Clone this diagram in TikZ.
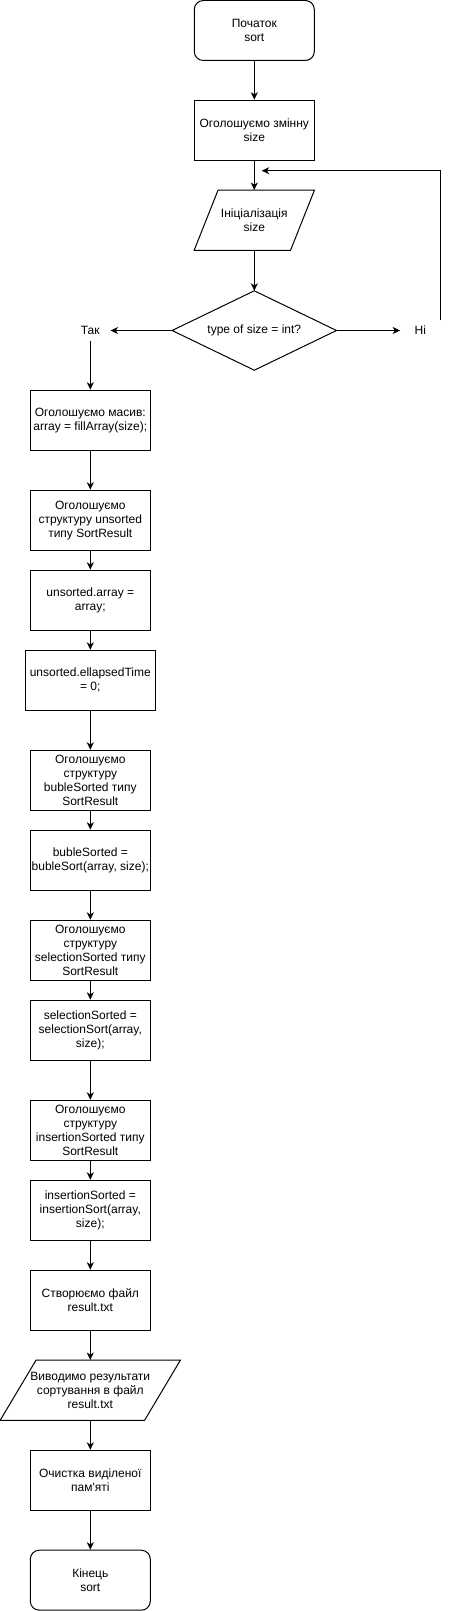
\documentclass[tikz,border=0pt]{standalone}
\usepackage{fontspec}
\setmainfont{Liberation Sans}[Ligatures=TeXOff]
\usetikzlibrary{arrows.meta}
\begin{document}
\begin{tikzpicture}[x=1pt,y=-1pt,
  every node/.style={font=\fontsize{12}{14}\selectfont, align=center, inner sep=0pt},
  proc/.style={draw, line width=1pt, minimum width=120pt, minimum height=60pt},
  term/.style={proc, rounded corners=9pt},
  iobox/.style={minimum width=120pt, minimum height=60pt},
  lbl/.style={minimum width=40pt, minimum height=20pt},
  arr/.style={line width=1pt, -{Stealth[length=7.5pt,width=7pt,inset=2.2pt]}},
  ln/.style={line width=1pt}
]
\useasboundingbox (0,0) rectangle (449,1611);

% main column
\node[term] (start) at (254.3,30.5) {Початок\\sort};
\node[proc] (decl) at (254.3,130.2) {Оголошуємо змінну\\size};
\node[iobox] (init) at (254.3,220.2) {Ініціалізація\\size};
\draw[ln] ([xshift=24pt]init.north west) -- (init.north east) -- ([xshift=-24pt]init.south east) -- (init.south west) -- cycle;
\node[minimum width=164pt, minimum height=79pt] (dec) at (254.3,330.5) {type of size = int?};
\draw[ln] (dec.north) -- (dec.east) -- (dec.south) -- (dec.west) -- cycle;
\node[lbl] (tak) at (90.3,330.5) {Так};
\node[lbl] (ni) at (420.3,330.5) {Ні};
\coordinate (fb) at (261.7,170.7);

% left column
\node[proc] (b1) at (90.3,420.2) {Оголошуємо масив:\\array = fillArray(size);};
\node[proc] (b2) at (90.3,520.2) {Оголошуємо\\структуру unsorted\\типу SortResult};
\node[proc] (b3) at (90.3,600.2) {unsorted.array =\\array;};
\node[proc, minimum width=130pt] (b4) at (90.3,680.3) {unsorted.ellapsedTime\\= 0;};
\node[proc] (b5) at (90.3,780.3) {Оголошуємо\\структуру\\bubleSorted типу\\SortResult};
\node[proc] (b6) at (90.3,860.2) {bubleSorted =\\bubleSort(array, size);};
\node[proc] (b7) at (90.3,950.3) {Оголошуємо\\структуру\\selectionSorted типу\\SortResult};
\node[proc] (b8) at (90.3,1030.2) {selectionSorted =\\selectionSort(array,\\size);};
\node[proc] (b9) at (90.3,1130.3) {Оголошуємо\\структуру\\insertionSorted типу\\SortResult};
\node[proc] (b10) at (90.3,1210.3) {insertionSorted =\\insertionSort(array,\\size);};
\node[proc] (b11) at (90.3,1300.2) {Створюємо файл\\result.txt};
\node[iobox, minimum width=180pt] (out) at (90.3,1390.2) {Виводимо результати\\сортування в файл\\result.txt};
\draw[ln] ([xshift=36pt]out.north west) -- (out.north east) -- ([xshift=-36pt]out.south east) -- (out.south west) -- cycle;
\node[proc] (b12) at (90.3,1480.3) {Очистка виділеної\\пам'яті};
\node[term] (end) at (90.3,1580.2) {Кінець\\sort};

% connectors
\draw[arr] (start) -- (decl);
\draw[arr] (decl) -- (init.north);
\draw[arr] (init.south) -- (dec.north);
\draw[arr] (dec.west) -- (tak.east);
\draw[arr] (dec.east) -- (ni.west);
\draw[arr] (ni.north east) |- (fb);
\draw[arr] (tak.south) -- (b1.north);
\draw[arr] (b1) -- (b2);
\draw[arr] (b2) -- (b3);
\draw[arr] (b3) -- (b4);
\draw[arr] (b4) -- (b5);
\draw[arr] (b5) -- (b6);
\draw[arr] (b6) -- (b7);
\draw[arr] (b7) -- (b8);
\draw[arr] (b8) -- (b9);
\draw[arr] (b9) -- (b10);
\draw[arr] (b10) -- (b11);
\draw[arr] (b11) -- (out.north);
\draw[arr] (out.south) -- (b12);
\draw[arr] (b12) -- (end);
\end{tikzpicture}
\end{document}
